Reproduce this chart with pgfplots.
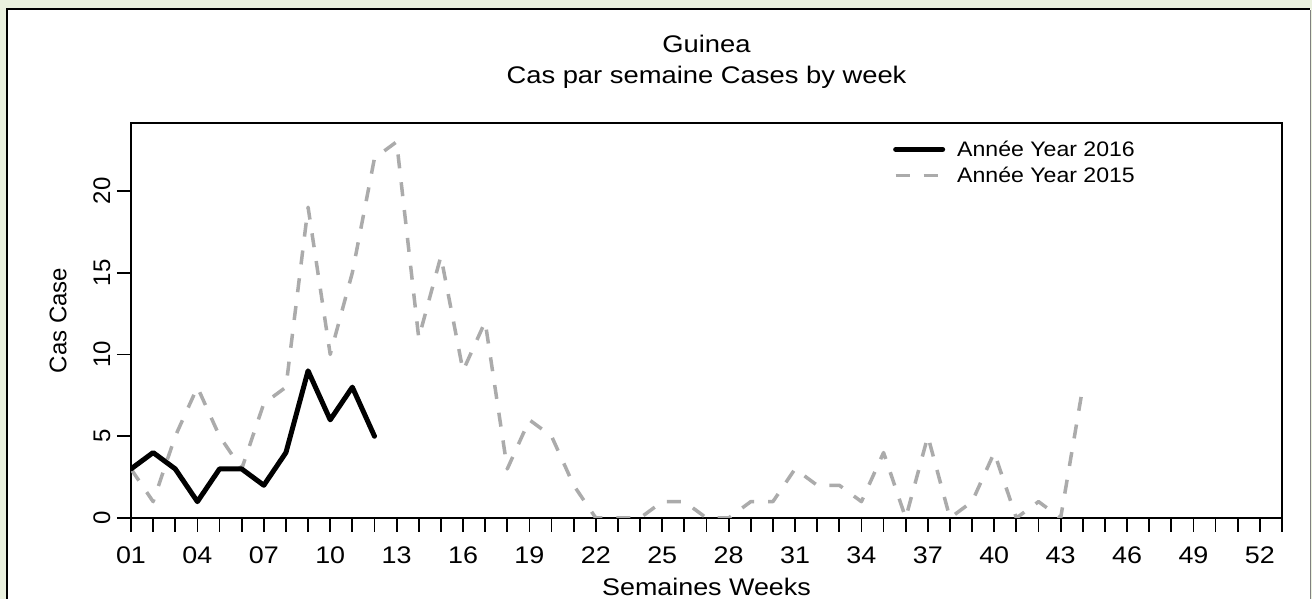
\documentclass[border=0pt]{standalone}
\usepackage{fontspec}
\setmainfont{Liberation Sans}
\usepackage{graphicx}
\usepackage{pgfplots}
\pgfplotsset{compat=1.18}
\definecolor{bggreen}{HTML}{EAF1DE}
\definecolor{lgray}{HTML}{ABABAB}
\newcommand\sx[2][1.12]{\scalebox{#1}[1]{#2}}

\pgfplotstableread{
week cases
1 3
2 4
3 3
4 1
5 3
6 3
7 2
8 4
9 9
10 6
11 8
12 5
}\yearsixteen

\pgfplotstableread{
week cases
1 3
2 1
3 5
4 8
5 5
6 3
7 7
8 8
9 19
10 10
11 15
12 22
13 23
14 11
15 16
16 9
17 12
18 3
19 6
20 5
21 2
22 0
23 0
24 0
25 1
26 1
27 0
28 0
29 1
30 1
31 3
32 2
33 2
34 1
35 4
36 0
37 5
38 0
39 1
40 4
41 0
42 1
43 0
44 8
}\yearfifteen

\begin{document}
\begin{tikzpicture}[x=1pt,y=1pt]
\fill[bggreen] (0,0) rectangle (1312,599);
\fill[white] (7,0) rectangle (1311,590);
\draw[black, line width=2.5pt] (7,0) -- (7,590) -- (1310,590);
\draw[gray, line width=1.5pt] (1310.5,589) -- (1310.5,0);

\begin{axis}[
  at={(131pt,81pt)}, anchor=south west,
  scale only axis, width=1151pt, height=395pt,
  xmin=1, xmax=53, ymin=0, ymax=24.15,
  axis line style={line width=2pt},
  tick style={line width=1.8pt, black},
  major tick length=14pt, minor tick length=14pt,
  tick align=outside,
  xtick pos=bottom, ytick pos=left,
  xtick={1,4,...,52},
  minor xtick={1,...,53},
  xticklabels={\sx{01},\sx{04},\sx{07},\sx{10},\sx{13},\sx{16},\sx{19},\sx{22},\sx{25},\sx{28},\sx{31},\sx{34},\sx{37},\sx{40},\sx{43},\sx{46},\sx{49},\sx{52}},
  xticklabel style={font=\fontsize{24}{24}\selectfont, anchor=north, inner sep=0pt},
  xticklabel shift=14.5pt,
  ytick={0,5,10,15,20},
  yticklabels={0,5,10,15,20},
  yticklabel style={font=\fontsize{24}{24}\selectfont, rotate=90, anchor=south, inner sep=0pt},
  yticklabel shift=6.5pt,
  xlabel={\sx{Semaines Weeks}},
  xlabel style={font=\fontsize{24}{24}\selectfont, at={(axis description cs:0.5,0)}, anchor=base, yshift=-77.5pt},
  ylabel={Cas Case},
  ylabel style={font=\fontsize{24}{24}\selectfont, at={(axis description cs:-0.0634,0.5)}, anchor=center},
  reverse legend,
  legend image code/.code={\draw[#1] (0pt,0pt) -- (47pt,0pt);},
  legend style={at={(axis description cs:0.662,0.955)}, anchor=north west, draw=none, fill=none, inner sep=0pt,
    font=\fontsize{21}{21}\selectfont, row sep=9pt, column sep=12pt, nodes={inner sep=0pt}},
  legend cell align=left,
]
\addplot[lgray, line width=3.5pt, dash pattern=on 14pt off 14pt, line join=round] table[x=week, y=cases] {\yearfifteen};
\addlegendentry{\sx[1.1]{Année Year 2015}}
\addplot[black, line width=5pt, line join=round, line cap=round] table[x=week, y=cases] {\yearsixteen};
\addlegendentry{\sx[1.1]{Année Year 2016}}
\end{axis}

\node[anchor=base, font=\fontsize{24}{24}\selectfont] at (706.5,546.5) {\sx[1.14]{Guinea}};
\node[anchor=base, font=\fontsize{24}{24}\selectfont] at (706.5,515.5) {\sx[1.14]{Cas par semaine Cases by week}};

\pgfresetboundingbox
\useasboundingbox (0,0) rectangle (1312,599);
\end{tikzpicture}
\end{document}
